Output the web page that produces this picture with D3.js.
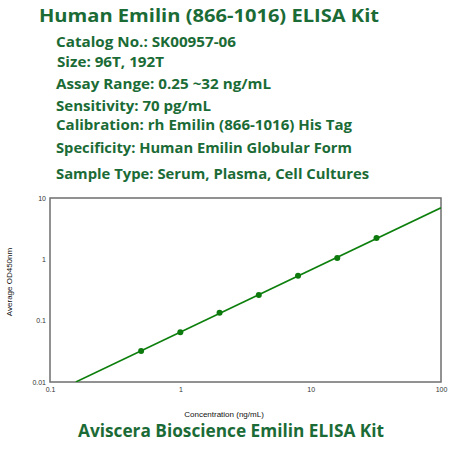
<!DOCTYPE html>
<html>
<head>
<meta charset="utf-8">
<script src="https://cdn.jsdelivr.net/npm/d3@7.9.0/dist/d3.min.js"></script>
<style>
  html, body { margin: 0; padding: 0; background: #fff; }
  svg { display: block; }
</style>
</head>
<body>
<svg id="chart" width="450" height="450"></svg>
<script>
// standard curve readings
const concentrations = [0.5, 1, 2, 4, 8, 16, 32];
const odValues = [0.032, 0.065, 0.134, 0.262, 0.542, 1.05, 2.22];
const xTicks = [0.1, 1, 10, 100];
const yTicks = [0.01, 0.1, 1, 10];

const title = 'Human Emilin (866-1016) ELISA Kit';
const infoLines = [
  'Catalog No.: SK00957-06',
  'Size: 96T, 192T',
  'Assay Range: 0.25 ~32 ng/mL',
  'Sensitivity: 70 pg/mL',
  'Calibration: rh Emilin (866-1016) His Tag',
  'Specificity: Human Emilin Globular Form',
  'Sample Type: Serum, Plasma, Cell Cultures'
];
const footer = 'Aviscera Bioscience Emilin ELISA Kit';

const green = '#1b6b36';
const svg = d3.select('#chart');

// header text
svg.append('text')
  .attr('x', 39).attr('y', 22)
  .attr('font-family', 'Open Sans').attr('font-weight', 700)
  .attr('font-size', 18.5).attr('fill', green)
  .attr('textLength', 340).attr('lengthAdjust', 'spacingAndGlyphs')
  .text(title);

const lineY = [46.5, 66.5, 89, 111, 130, 153, 179];
const lineX = [56, 57, 56, 56, 56, 56, 56];
const lineW = [180, 107, 215, 155, 296, 296, 313];
infoLines.forEach((t, i) => {
  svg.append('text')
    .attr('x', lineX[i]).attr('y', lineY[i])
    .attr('font-family', 'Open Sans').attr('font-weight', 700)
    .attr('font-size', 15).attr('fill', green)
    .attr('textLength', lineW[i]).attr('lengthAdjust', 'spacingAndGlyphs')
    .text(t);
});

svg.append('text')
  .attr('x', 78).attr('y', 437)
  .attr('font-family', 'Open Sans').attr('font-weight', 700)
  .attr('font-size', 17).attr('fill', green)
  .attr('textLength', 306).attr('lengthAdjust', 'spacingAndGlyphs')
  .text(footer);

// plot area
const mLeft = 50, mRight = 441, mTop = 198, mBottom = 382;
const x = d3.scaleLog().domain([0.1, 100]).range([mLeft, mRight]);
const y = d3.scaleLog().domain([0.01, 10]).range([mBottom, mTop]);

svg.append('rect')
  .attr('x', mLeft).attr('y', mTop)
  .attr('width', mRight - mLeft).attr('height', mBottom - mTop)
  .attr('fill', 'none').attr('stroke', '#6e6e6e').attr('stroke-width', 1.5);

const xAxis = d3.axisBottom(x).tickValues(xTicks).tickSize(0).tickPadding(5)
  .tickFormat(d3.format('~g'));
const gx = svg.append('g').attr('transform', `translate(0,${mBottom})`).call(xAxis);
gx.select('.domain').remove();

const yAxis = d3.axisLeft(y).tickValues(yTicks).tickSize(0).tickPadding(4)
  .tickFormat(d3.format('~g'));
const gy = svg.append('g').attr('transform', `translate(${mLeft},0)`).call(yAxis);
gy.select('.domain').remove();

svg.selectAll('.tick text')
  .attr('font-family', 'Liberation Sans, Arial, sans-serif')
  .attr('font-size', 7).attr('fill', '#333');

svg.append('text')
  .attr('x', 224).attr('y', 417).attr('text-anchor', 'middle')
  .attr('font-family', 'Liberation Sans, Arial, sans-serif')
  .attr('font-size', 8).attr('fill', '#111')
  .text('Concentration (ng/mL)');

svg.append('text')
  .attr('transform', 'translate(12,282) rotate(-90)')
  .attr('text-anchor', 'middle')
  .attr('font-family', 'Liberation Sans, Arial, sans-serif')
  .attr('font-size', 8).attr('fill', '#111')
  .text('Average OD450nm');

// log-log linear fit of the standards
const lx = concentrations.map(Math.log10);
const ly = odValues.map(Math.log10);
const mx = d3.mean(lx), my = d3.mean(ly);
const slope = d3.sum(lx, (v, i) => (v - mx) * (ly[i] - my)) / d3.sum(lx, v => (v - mx) ** 2);
const icpt = my - slope * mx;
const fit = c => Math.pow(10, icpt + slope * Math.log10(c));

// start where the fit crosses the bottom of the frame
const xStart = Math.pow(10, (Math.log10(0.01) - icpt) / slope);
const fitPts = [xStart, 100].map(c => [x(c), y(fit(c))]);

svg.append('clipPath').attr('id', 'plotclip')
  .append('rect').attr('x', mLeft).attr('y', mTop)
  .attr('width', mRight - mLeft).attr('height', mBottom - mTop);

svg.append('path')
  .attr('d', d3.line()(fitPts))
  .attr('clip-path', 'url(#plotclip)')
  .attr('fill', 'none').attr('stroke', '#0d7f0d').attr('stroke-width', 1.6);

svg.selectAll('circle.pt')
  .data(concentrations)
  .join('circle')
  .attr('class', 'pt')
  .attr('cx', d => x(d))
  .attr('cy', (d, i) => y(odValues[i]))
  .attr('r', 3)
  .attr('fill', '#0d7a0d');
</script>
</body>
</html>
